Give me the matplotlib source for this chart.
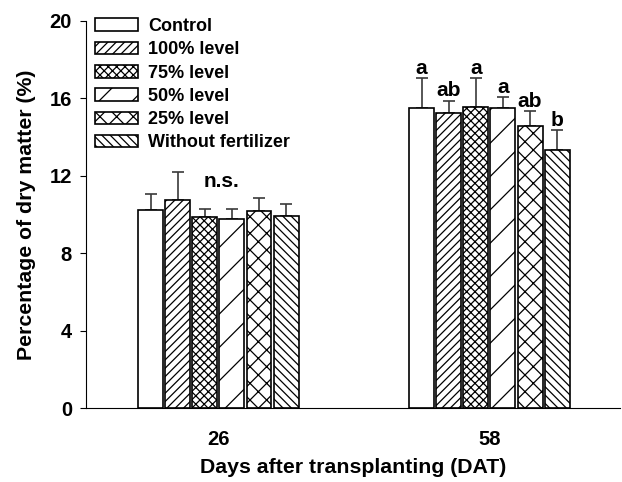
import numpy as np
import matplotlib
matplotlib.use("Agg")
import matplotlib.pyplot as plt

plt.rcParams["font.family"] = ["Liberation Sans", "DejaVu Sans"]
plt.rcParams["font.weight"] = "bold"
plt.rcParams["hatch.linewidth"] = 0.9

# ── Data ──────────────────────────────────────────────────────────────────────
days = ["26", "58"]
treatments = ["Control", "100% level", "75% level", "50% level", "25% level",
              "Without fertilizer"]
means_26 = [10.25, 10.75, 9.85, 9.75, 10.2, 9.9]
err_26 = [0.8, 1.45, 0.42, 0.55, 0.63, 0.64]
means_58 = [15.5, 15.25, 15.55, 15.5, 14.55, 13.35]
err_58 = [1.55, 0.63, 1.5, 0.55, 0.8, 1.0]
letters_58 = ["a", "ab", "a", "a", "ab", "b"]
hatches = ["", "////", "xxxx", "/", "xx", "\\\\\\\\"]

# ── Plot ──────────────────────────────────────────────────────────────────────
fig = plt.figure(figsize=(6.22, 4.82), dpi=100)
ax = fig.add_axes([0.138, 0.1535, 0.858, 0.803])

x = np.arange(len(days))
width = 0.092
step = 0.1
offsets = (np.arange(len(treatments)) - (len(treatments) - 1) / 2) * step

for i, name in enumerate(treatments):
    vals = [means_26[i], means_58[i]]
    errs = [err_26[i], err_58[i]]
    ax.bar(x + offsets[i], vals, width, color="white", edgecolor="black",
           linewidth=1.2, hatch=hatches[i], label=name, zorder=2)
    ax.errorbar(x + offsets[i], vals, yerr=[[0, 0], errs], fmt="none",
                ecolor="#3a3a3a", elinewidth=1.2, capsize=4, capthick=1.2,
                zorder=1)
    ax.text(x[1] + offsets[i], means_58[i] + err_58[i] + 0.02, letters_58[i],
            ha="center", va="bottom", fontsize=15, fontweight="bold")

ax.text(x[0] + 0.01, 11.2, "n.s.", ha="center", va="bottom", fontsize=15,
        fontweight="bold")

ax.set_xlim(-0.489, 1.48)
ax.set_ylim(0, 20)
ax.set_yticks([0, 4, 8, 12, 16, 20])
ax.set_xticks(x)
ax.set_xticklabels(days)
ax.tick_params(axis="x", length=0, pad=16, labelsize=14.5)
ax.tick_params(axis="y", length=4, direction="out", labelsize=14.5, pad=6)
for lbl in ax.get_xticklabels() + ax.get_yticklabels():
    lbl.set_fontweight("bold")
ax.spines["top"].set_visible(False)
ax.spines["right"].set_visible(False)

ax.set_xlabel("Days after transplanting (DAT)", fontsize=15.3,
              fontweight="bold", labelpad=6)
ax.set_ylabel("Percentage of dry matter (%)", fontsize=15.3,
              fontweight="bold", labelpad=10)

ax.legend(loc="upper left", bbox_to_anchor=(-0.013, 1.05), frameon=False,
          fontsize=13, handlelength=2.35, handleheight=0.7, labelspacing=0.35,
          handletextpad=0.6, borderaxespad=0.5)

fig.savefig("out.png", dpi=100)
